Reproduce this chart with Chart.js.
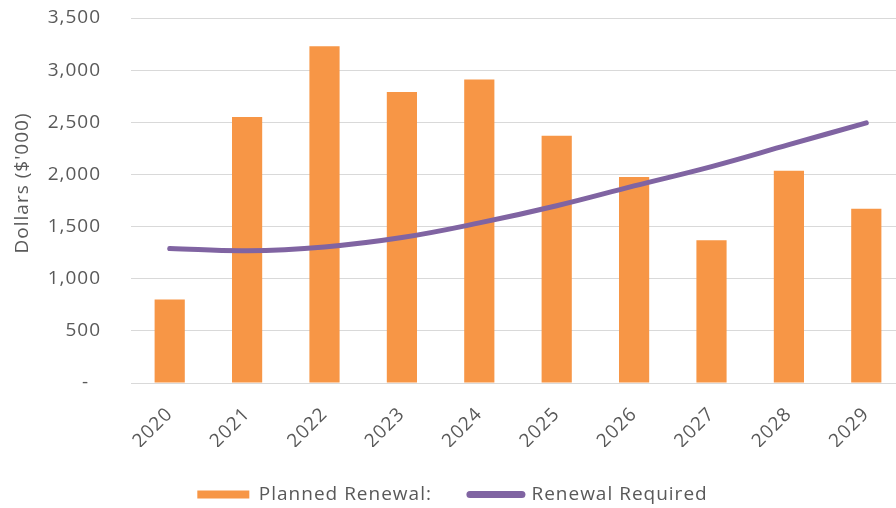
<!DOCTYPE html>
<html>
<head>
<meta charset="utf-8">
<script src="https://cdn.jsdelivr.net/npm/chart.js@4/dist/chart.umd.min.js"></script>
<style>
  html, body { margin: 0; padding: 0; background: #fff; overflow: hidden; }
  #wrap { width: 906px; height: 508px; }
</style>
</head>
<body>
<div id="wrap"><canvas id="c" width="906" height="508"></canvas></div>
<script>
// Renewal programme by year, in thousands of dollars
const years = ['2020', '2021', '2022', '2023', '2024', '2025', '2026', '2027', '2028', '2029'];
const plannedRenewal = [800, 2550, 3230, 2790, 2910, 2370, 1975, 1370, 2035, 1670];
const renewalRequired = [1290, 1268, 1305, 1395, 1535, 1700, 1890, 2075, 2285, 2495];
const yTicks = [0, 500, 1000, 1500, 2000, 2500, 3000, 3500];
const yTitle = "Dollars ($'000)";

const FONT = "'Open Sans', Lato, sans-serif";
const GREY = '#595959';

// Slightly open letter spacing for all chart text
const spacingPlugin = {
  id: 'spacing',
  beforeInit(chart) { chart.ctx.letterSpacing = '1px'; },
  beforeUpdate(chart) { chart.ctx.letterSpacing = '1px'; },
  beforeDraw(chart) { chart.ctx.letterSpacing = '1px'; }
};

// Vertical axis title, centred a little above the middle of the value axis
const yTitlePlugin = {
  id: 'yTitle',
  afterDraw(chart) {
    const { ctx, chartArea } = chart;
    ctx.save();
    ctx.translate(23, chartArea.top + (chartArea.bottom - chartArea.top) * 0.452);
    ctx.rotate(-Math.PI / 2);
    ctx.fillStyle = GREY;
    ctx.font = "19px " + FONT;
    ctx.textAlign = 'center';
    ctx.textBaseline = 'middle';
    ctx.fillText(yTitle, 0, 0);
    ctx.restore();
  }
};

new Chart(document.getElementById('c'), {
  data: {
    labels: years,
    datasets: [
      {
        type: 'line',
        label: 'Renewal Required',
        data: renewalRequired,
        borderColor: '#8064A2',
        backgroundColor: '#8064A2',
        borderWidth: 5,
        borderCapStyle: 'round',
        tension: 0.4,
        pointRadius: 0,
        order: 0
      },
      {
        type: 'bar',
        label: 'Planned Renewal:',
        data: plannedRenewal,
        backgroundColor: '#F79646',
        categoryPercentage: 1,
        barPercentage: 0.39,
        order: 1
      }
    ]
  },
  options: {
    responsive: false,
    animation: false,
    layout: { padding: { top: 0, right: 1, left: 0, bottom: -6 } },
    scales: {
      x: {
        grid: { display: false, drawTicks: false },
        border: { color: '#D9D9D9', width: 1 },
        afterFit: (axis) => { axis.height = 64; },
        ticks: {
          color: GREY,
          font: { family: FONT, size: 19 },
          minRotation: 45,
          maxRotation: 45,
          padding: 20
        }
      },
      y: {
        min: 0,
        max: 3500,
        afterBuildTicks: (axis) => { axis.ticks = yTicks.map(v => ({ value: v })); },
        afterFit: (axis) => {
          axis.width = 131;
          axis.paddingTop = 18;
          axis.paddingBottom = 0;
        },
        grid: { color: '#D9D9D9', lineWidth: 1, drawTicks: false },
        border: { display: false },
        ticks: {
          color: GREY,
          font: { family: FONT, size: 19 },
          padding: 30,
          callback: (v) => v === 0 ? '-  ' : v.toLocaleString('en-US')
        }
      }
    },
    plugins: {
      tooltip: { enabled: false },
      legend: {
        position: 'bottom',
        reverse: true,
        labels: {
          usePointStyle: true,
          pointStyleWidth: 52,
          boxHeight: 8,
          padding: 38,
          color: GREY,
          font: { family: FONT, size: 19 },
          generateLabels: (chart) => chart.data.datasets.map((ds, i) => ({
            text: ds.label,
            datasetIndex: i,
            fillStyle: ds.backgroundColor,
            strokeStyle: ds.type === 'line' ? ds.borderColor : ds.backgroundColor,
            lineWidth: ds.type === 'line' ? 7 : 0,
            lineCap: 'round',
            pointStyle: ds.type === 'line' ? 'line' : 'rect',
            fontColor: GREY,
            hidden: false
          }))
        }
      }
    }
  },
  plugins: [spacingPlugin, yTitlePlugin]
});
</script>
</body>
</html>
